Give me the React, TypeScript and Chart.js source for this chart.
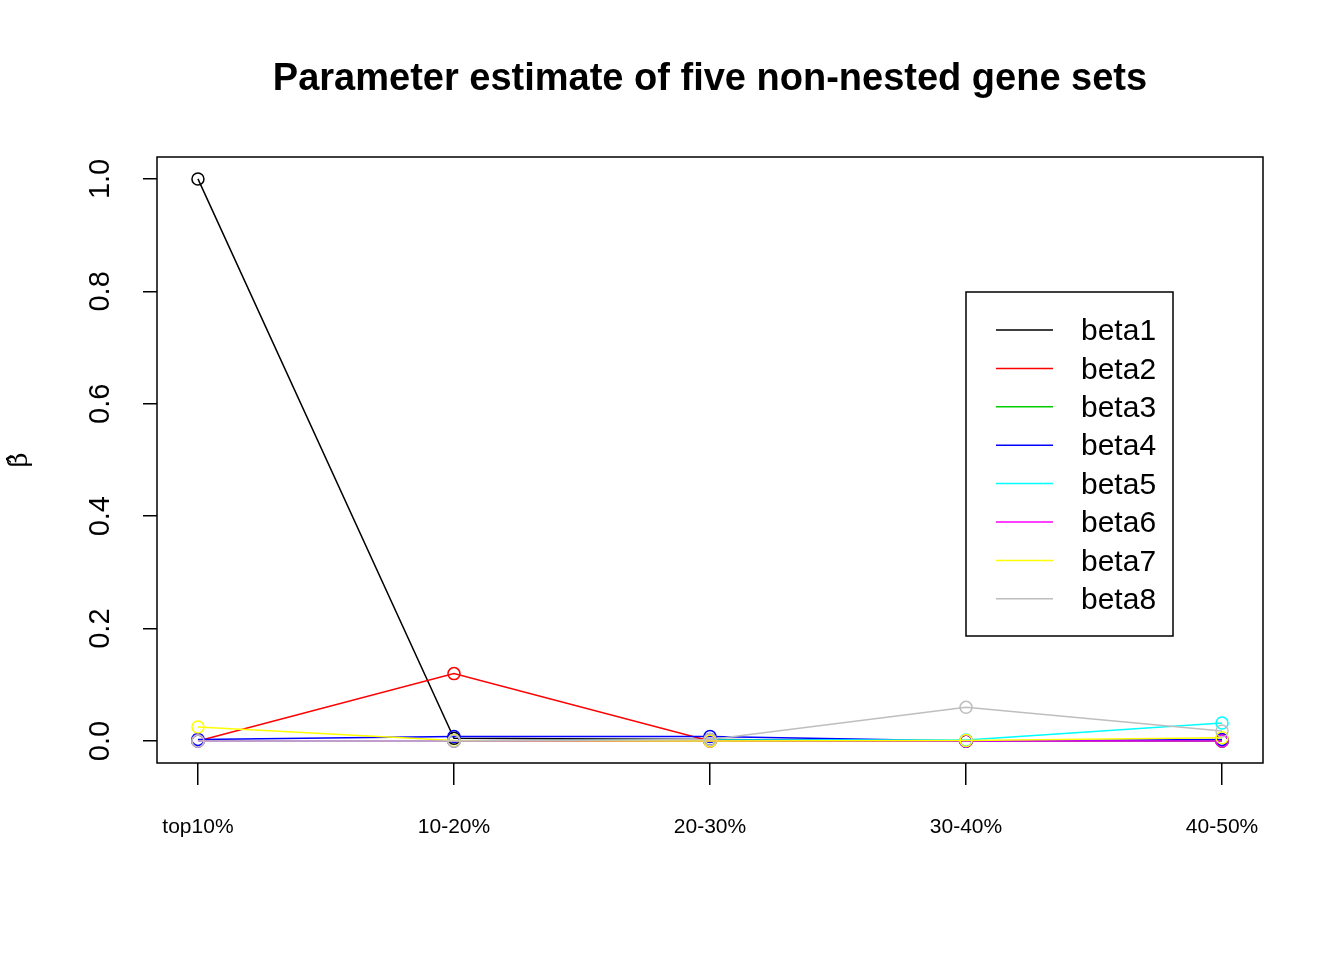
import React, { useEffect, useRef } from 'react';
import { Chart, registerables } from 'chart.js';

Chart.register(...registerables);

const categories = ['top10%', '10-20%', '20-30%', '30-40%', '40-50%'];
const yTicks = [0, 0.2, 0.4, 0.6, 0.8, 1.0];
const beta1 = [1.0, 0.005, 0.003, 0.0, 0.0];
const beta2 = [0.0, 0.12, 0.0, 0.0, 0.0];
const beta3 = [0.0, 0.0, 0.0, 0.0, 0.0];
const beta4 = [0.003, 0.008, 0.008, 0.0, 0.003];
const beta5 = [0.0, 0.0, 0.002, 0.002, 0.032];
const beta6 = [0.0, 0.0, 0.0, 0.0, 0.0];
const beta7 = [0.025, 0.001, 0.0, 0.001, 0.006];
const beta8 = [0.0, 0.0, 0.003, 0.06, 0.018];

const series = [
  { label: 'beta1', data: beta1, color: '#000000' },
  { label: 'beta2', data: beta2, color: '#ff0000' },
  { label: 'beta3', data: beta3, color: '#00cd00' },
  { label: 'beta4', data: beta4, color: '#0000ff' },
  { label: 'beta5', data: beta5, color: '#00ffff' },
  { label: 'beta6', data: beta6, color: '#ff00ff' },
  { label: 'beta7', data: beta7, color: '#ffff00' },
  { label: 'beta8', data: beta8, color: '#bebebe' },
];

const font = 'Arial, "Liberation Sans", sans-serif';

const decorPlugin = {
  id: 'decor',
  afterDraw(chart: any) {
    const ctx = chart.ctx;
    const a = chart.chartArea;
    const ys = chart.scales.y;
    ctx.save();
    ctx.strokeStyle = '#000';
    ctx.lineWidth = 1.5;
    ctx.strokeRect(a.left, a.top, a.right - a.left, a.bottom - a.top);

    // title
    ctx.fillStyle = '#000';
    ctx.font = `bold 38px ${font}`;
    ctx.textAlign = 'center';
    ctx.textBaseline = 'middle';
    ctx.fillText('Parameter estimate of five non-nested gene sets', (a.left + a.right) / 2, 80);

    // y tick labels rotated
    ctx.font = `29px ${font}`;
    yTicks.forEach((v) => {
      const py = ys.getPixelForValue(v);
      ctx.save();
      ctx.translate(101, py);
      ctx.rotate(-Math.PI / 2);
      ctx.fillText(v.toFixed(1), 0, 0);
      ctx.restore();
    });
    // y title
    ctx.save();
    ctx.translate(20, (a.top + a.bottom) / 2);
    ctx.rotate(-Math.PI / 2);
    ctx.font = `26px "DejaVu Serif", serif`;
    ctx.fillText('\u03B2\u0302', 0, 0);
    ctx.restore();

    // legend
    const lx = 966, ly = 292, lw = 207, lh = 344;
    ctx.strokeRect(lx, ly, lw, lh);
    ctx.font = `30px ${font}`;
    ctx.textAlign = 'left';
    series.forEach((s, i) => {
      const y = 330 + i * 38.4;
      ctx.strokeStyle = s.color;
      ctx.lineWidth = 1.5;
      ctx.beginPath();
      ctx.moveTo(996, y);
      ctx.lineTo(1053, y);
      ctx.stroke();
      ctx.fillStyle = '#000';
      ctx.fillText(s.label, 1081, y + 2);
    });
    ctx.restore();
  },
};

const App: React.FC = () => {
  const canvasRef = useRef<HTMLCanvasElement>(null);
  const chartRef = useRef<Chart | null>(null);

  useEffect(() => {
    if (!canvasRef.current) return;
    chartRef.current = new Chart(canvasRef.current, {
      type: 'line',
      data: {
        datasets: series.map((s, i) => ({
          label: s.label,
          data: s.data.map((v, j) => ({ x: j, y: v })),
          order: series.length - i,
          borderColor: s.color,
          backgroundColor: 'transparent',
          borderWidth: 1.5,
          pointRadius: 6,
          pointBorderWidth: 1.5,
          pointBackgroundColor: 'transparent',
          pointBorderColor: s.color,
          tension: 0,
        })),
      },
      options: {
        animation: false,
        responsive: false,
        layout: { padding: { top: 157, right: 81, left: 0, bottom: 0 } },
        scales: {
          x: {
            type: 'linear',
            min: -0.16,
            max: 4.16,
            afterFit: (s: any) => { s.height = 197; },
            afterBuildTicks: (s: any) => { s.ticks = categories.map((_, i) => ({ value: i })); },
            ticks: {
              color: '#000',
              font: { size: 21, family: font },
              padding: 30,
              maxRotation: 0,
              autoSkip: false,
              callback: (v: any) => categories[v] ?? '',
            },
            grid: { drawOnChartArea: false, tickLength: 22, color: '#000', lineWidth: 1.5 },
            border: { display: false },
          },
          y: {
            min: -0.039,
            max: 1.039,
            afterFit: (s: any) => { s.width = 157; },
            afterBuildTicks: (s: any) => { s.ticks = yTicks.map((v) => ({ value: v })); },
            ticks: { display: true, color: 'transparent', font: { size: 1 } },
            grid: { drawOnChartArea: false, tickLength: 14, color: '#000', lineWidth: 1.5 },
            border: { display: false },
          },
        },
        plugins: { legend: { display: false }, tooltip: { enabled: false }, title: { display: false } },
      },
      plugins: [decorPlugin],
    });
    return () => chartRef.current?.destroy();
  }, []);

  return (
    <div style={{ position: 'fixed', left: 0, top: 0, width: 1344, height: 960, background: '#fff' }}>
      <canvas ref={canvasRef} width={1344} height={960} style={{ width: 1344, height: 960 }} />
    </div>
  );
};

export default App;
